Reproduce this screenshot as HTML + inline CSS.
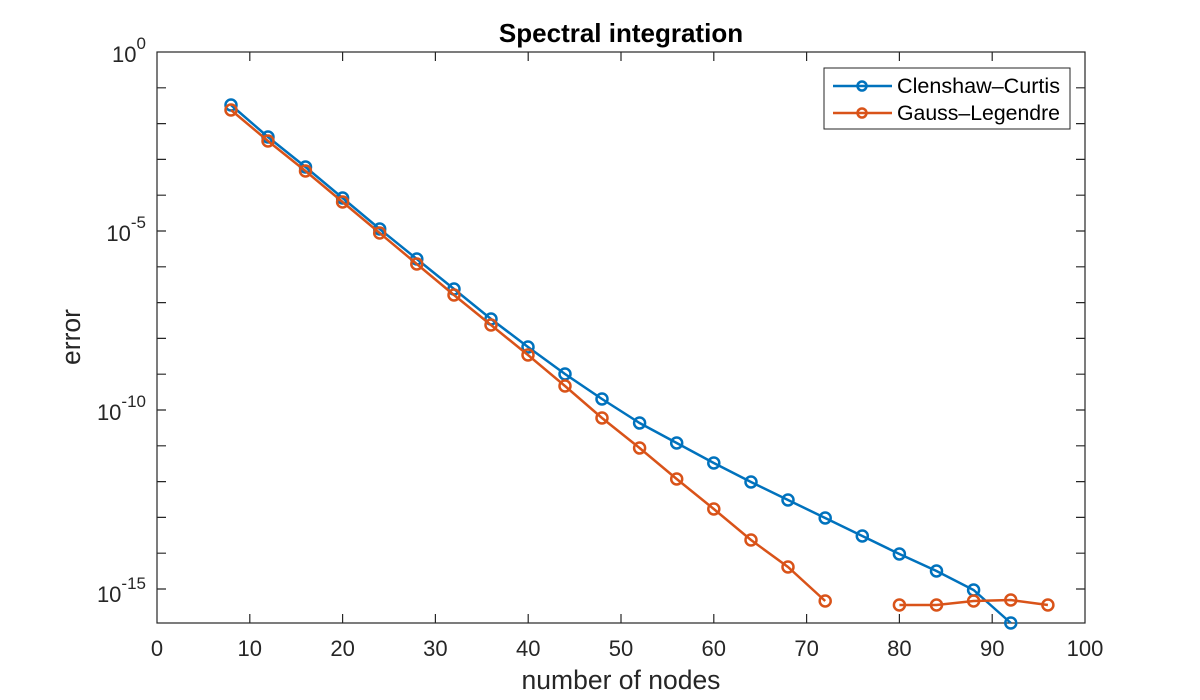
<!DOCTYPE html>
<html><head><meta charset="utf-8"><style>
html,body{margin:0;padding:0;background:#fff}
svg{display:block}
text{font-family:"Liberation Sans",Helvetica,Arial,sans-serif;fill:#262626}
</style></head><body>
<svg width="1200" height="700" viewBox="0 0 1200 700" xmlns="http://www.w3.org/2000/svg">
<rect width="1200" height="700" fill="#fff"/>
<rect x="157" y="52" width="928" height="571" fill="#fff" stroke="#262626" stroke-width="1.2"/>
<g stroke="#262626" stroke-width="1.2">
<path d="M249.8 623v-9M342.6 623v-9M435.4 623v-9M528.2 623v-9M621 623v-9M713.8 623v-9M806.6 623v-9M899.4 623v-9M992.2 623v-9
M249.8 52v9M342.6 52v9M435.4 52v9M528.2 52v9M621 52v9M713.8 52v9M806.6 52v9M899.4 52v9M992.2 52v9"/>
<path d="M157 87.8h9M157 123.6h9M157 159.4h9M157 195.2h9M157 231h9M157 266.8h9M157 302.6h9M157 338.4h9M157 374.2h9M157 410h9M157 445.8h9M157 481.6h9M157 517.4h9M157 553.2h9M157 589h9
M1085 87.8h-9M1085 123.6h-9M1085 159.4h-9M1085 195.2h-9M1085 231h-9M1085 266.8h-9M1085 302.6h-9M1085 338.4h-9M1085 374.2h-9M1085 410h-9M1085 445.8h-9M1085 481.6h-9M1085 517.4h-9M1085 553.2h-9M1085 589h-9"/>
</g>
<g font-size="22" text-anchor="middle">
<text x="157" y="656">0</text><text x="249.8" y="656">10</text><text x="342.6" y="656">20</text><text x="435.4" y="656">30</text><text x="528.2" y="656">40</text><text x="621" y="656">50</text><text x="713.8" y="656">60</text><text x="806.6" y="656">70</text><text x="899.4" y="656">80</text><text x="992.2" y="656">90</text><text x="1085" y="656">100</text>
</g>
<g font-size="22" text-anchor="end">
<text x="146" y="62">10<tspan font-size="17" dy="-13">0</tspan></text>
<text x="146" y="241">10<tspan font-size="17" dy="-13">-5</tspan></text>
<text x="146" y="420">10<tspan font-size="17" dy="-13">-10</tspan></text>
<text x="146" y="602">10<tspan font-size="17" dy="-13">-15</tspan></text>
</g>
<text x="621" y="689" font-size="26.5" text-anchor="middle">number of nodes</text>
<text transform="translate(80,337) rotate(-90)" font-size="26.5" text-anchor="middle">error</text>
<text x="621" y="42" font-size="26" font-weight="bold" text-anchor="middle" style="fill:#000">Spectral integration</text>
<g fill="none" stroke-width="2.5">
<polyline stroke="#0072BD" points="231,105 268,137 305.5,167 342.6,198 379.7,229 416.8,259 454,289 491,319 528,347 565,374 602,399 639.6,423 676.7,443 713.8,463 751,482 788,500 825.2,518 862.3,536 899.4,554 936.5,571 973.6,590 1010.8,623"/>
<g stroke="#0072BD">
<circle cx="231" cy="105" r="5.5"/><circle cx="268" cy="137" r="5.5"/><circle cx="305.5" cy="167" r="5.5"/><circle cx="342.6" cy="198" r="5.5"/><circle cx="379.7" cy="229" r="5.5"/><circle cx="416.8" cy="259" r="5.5"/><circle cx="454" cy="289" r="5.5"/><circle cx="491" cy="319" r="5.5"/><circle cx="528" cy="347" r="5.5"/><circle cx="565" cy="374" r="5.5"/><circle cx="602" cy="399" r="5.5"/><circle cx="639.6" cy="423" r="5.5"/><circle cx="676.7" cy="443" r="5.5"/><circle cx="713.8" cy="463" r="5.5"/><circle cx="751" cy="482" r="5.5"/><circle cx="788" cy="500" r="5.5"/><circle cx="825.2" cy="518" r="5.5"/><circle cx="862.3" cy="536" r="5.5"/><circle cx="899.4" cy="554" r="5.5"/><circle cx="936.5" cy="571" r="5.5"/><circle cx="973.6" cy="590" r="5.5"/><circle cx="1010.8" cy="623" r="5.5"/>
</g>
<polyline stroke="#D95319" points="231,110 268,141 305.5,171 342.6,202 379.7,233 416.8,264 454,295 491,325 528,355 565,386 602,418 639.6,448 676.7,479 713.8,509 751,540 788,567 825.2,601"/>
<polyline stroke="#D95319" points="899.4,605 936.5,605 973.6,601 1010.8,600 1047.9,605"/>
<g stroke="#D95319">
<circle cx="231" cy="110" r="5.5"/><circle cx="268" cy="141" r="5.5"/><circle cx="305.5" cy="171" r="5.5"/><circle cx="342.6" cy="202" r="5.5"/><circle cx="379.7" cy="233" r="5.5"/><circle cx="416.8" cy="264" r="5.5"/><circle cx="454" cy="295" r="5.5"/><circle cx="491" cy="325" r="5.5"/><circle cx="528" cy="355" r="5.5"/><circle cx="565" cy="386" r="5.5"/><circle cx="602" cy="418" r="5.5"/><circle cx="639.6" cy="448" r="5.5"/><circle cx="676.7" cy="479" r="5.5"/><circle cx="713.8" cy="509" r="5.5"/><circle cx="751" cy="540" r="5.5"/><circle cx="788" cy="567" r="5.5"/><circle cx="825.2" cy="601" r="5.5"/>
<circle cx="899.4" cy="605" r="5.5"/><circle cx="936.5" cy="605" r="5.5"/><circle cx="973.6" cy="601" r="5.5"/><circle cx="1010.8" cy="600" r="5.5"/><circle cx="1047.9" cy="605" r="5.5"/>
</g>
</g>
<rect x="824" y="68" width="246" height="61" fill="#fff" stroke="#262626" stroke-width="1"/>
<g fill="none" stroke-width="2.5">
<path d="M833 86h59" stroke="#0072BD"/><circle cx="862" cy="86" r="4.5" stroke="#0072BD"/>
<path d="M833 113h59" stroke="#D95319"/><circle cx="862" cy="113" r="4.5" stroke="#D95319"/>
</g>
<g font-size="21">
<text x="897" y="93" style="fill:#000" textLength="163" lengthAdjust="spacingAndGlyphs">Clenshaw–Curtis</text>
<text x="897" y="120" style="fill:#000" textLength="163" lengthAdjust="spacingAndGlyphs">Gauss–Legendre</text>
</g>
</svg>
</body></html>
